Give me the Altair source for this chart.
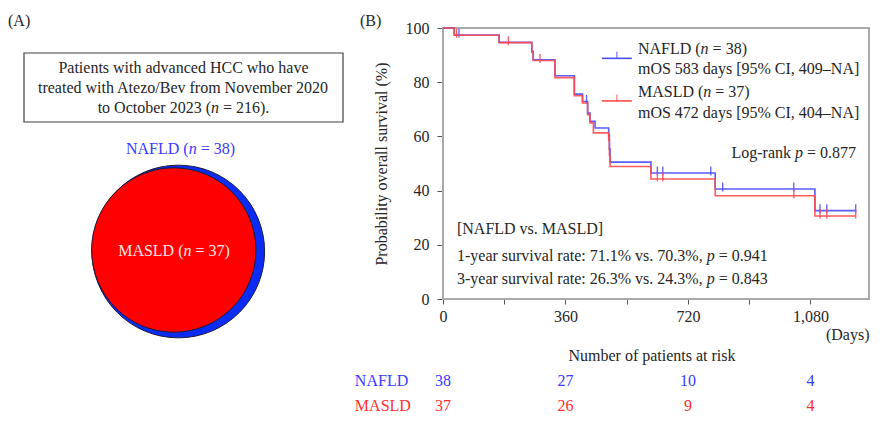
import altair as alt
import pandas as pd

# ------------------------------------------------------------------ data
# Kaplan-Meier step points (days, survival %)
nafld_time = [0, 33, 165, 261, 265, 329, 386, 410, 425, 432, 447, 487, 489, 491, 611, 800, 1093, 1213]
nafld_surv = [100, 97.4, 94.7, 91.4, 88.3, 82.4, 75.6, 72.9, 68.6, 65.6, 63.1, 60.5, 55.3, 50.5, 46.5, 40.6, 32.6, 32.6]
masld_time = [0, 33, 165, 261, 265, 329, 386, 410, 425, 432, 442, 487, 489, 491, 611, 800, 1093, 1213]
masld_surv = [100, 97.3, 94.6, 91.0, 88.0, 81.7, 75.0, 72.3, 68.0, 65.0, 61.3, 58.6, 53.0, 48.9, 44.3, 38.1, 30.6, 30.6]
# censoring marks (days)
nafld_censor = [47, 422, 630, 646, 787, 822, 1031, 1108, 1128, 1213]
masld_censor = [40, 192, 285, 630, 646, 1031, 1108, 1128, 1213]

# numbers at risk
risk_days = [0, 360, 720, 1080]
nafld_at_risk = [38, 27, 10, 4]
masld_at_risk = [37, 26, 9, 4]

groups = ["NAFLD", "MASLD"]
group_n = [38, 37]
total_n = 216
mos_text = ["mOS 583 days [95% CI, 409\u2013NA]", "mOS 472 days [95% CI, 404\u2013NA]"]
logrank_p = "0.877"
one_year = ["71.1%", "70.3%", "0.941"]
three_year = ["26.3%", "24.3%", "0.843"]
x_ticks = [0, 180, 360, 540, 720, 900, 1080]
y_ticks = [0, 20, 40, 60, 80, 100]

# ------------------------------------------------------------------ style
BLUE = "#3a3aff"
RED = "#ff2f2f"
LINE_BLUE = "#4a4aff"
LINE_RED = "#ff4a4a"
INK = "#262626"
FONT = "Liberation Serif"
FS = 16
NOVIEW = alt.ViewBackground(stroke="transparent", strokeWidth=0)

XMAX = 1252
W_KM, H_KM = 426, 271
DAYS_PER_PX = XMAX / W_KM
W_L, H_L = 335, 320

# Times / Liberation Serif advance widths (per 1000 em)
TW = {" ": 250, "(": 333, ")": 333, ",": 250, "-": 333, ".": 250, "/": 278, ":": 278,
      "=": 564, "[": 333, "]": 333, "%": 833, "\u2013": 500,
      "A": 722, "B": 667, "C": 667, "D": 722, "E": 611, "F": 556, "G": 722, "H": 722,
      "I": 333, "L": 611, "M": 889, "N": 722, "O": 722, "P": 556, "S": 556, "T": 611,
      "a": 444, "b": 500, "c": 444, "d": 500, "e": 444, "f": 333, "g": 500, "h": 500,
      "i": 278, "k": 500, "l": 278, "m": 778, "n": 500, "o": 500, "p": 500, "r": 333,
      "s": 389, "t": 278, "u": 500, "v": 500, "w": 722, "y": 500, "z": 444}


def tw(s):
    return sum(TW.get(c, 500) for c in s) * FS / 1000


def runs(segments, x, y, align="left", color=INK, units_per_px=1.0):
    total = sum(tw(s) for s, _ in segments)
    cur = {"left": 0.0, "center": -total / 2, "right": -total}[align]
    rows = []
    for s, it in segments:
        lead = len(s) - len(s.lstrip(" "))
        txt = s.strip()
        if txt:
            rows.append({"text": txt, "x": x + (cur + lead * TW[" "] * FS / 1000) * units_per_px,
                         "y": y, "italic": it, "color": color})
        cur += tw(s)
    return rows


def text_layers(rows, X, Y):
    df = pd.DataFrame(rows)
    base = alt.Chart(df).encode(x=X, y=Y, text="text:N", color=alt.Color("color:N", scale=None))
    norm = base.transform_filter("!datum.italic").mark_text(
        align="left", baseline="middle", fontSize=FS, font=FONT)
    ital = base.transform_filter("datum.italic").mark_text(
        align="left", baseline="middle", fontSize=FS, font=FONT, fontStyle="italic")
    return [norm, ital]


def surv_at(times, survs, t):
    v = survs[0]
    for ti, si in zip(times, survs):
        if ti <= t:
            v = si
    return v


# ------------------------------------------------------------------ panel A
lx = alt.Scale(domain=[0, W_L])
ly = alt.Scale(domain=[0, H_L], reverse=True)
LX = alt.X("x:Q", scale=lx, axis=None)
LY = alt.Y("y:Q", scale=ly, axis=None)

box = alt.Chart(pd.DataFrame([{"x": 16, "x2": 335, "y": 25, "y2": 94}])).mark_rect(
    fill="white", stroke="#404040", strokeWidth=1.2
).encode(x=LX, x2="x2:Q", y=LY, y2="y2:Q")

venn = pd.DataFrame({"grp": groups, "n": group_n, "x": [170.3, 165.8], "y": [223.5, 222.0],
                     "d": [172.6, 164.4]})
venn["size"] = venn["d"] ** 2
circ_blue = alt.Chart(venn[venn.grp == "NAFLD"]).mark_circle(
    opacity=1, fill="#0a2cf5", stroke="#1b1b3a", strokeWidth=1
).encode(x=LX, y=LY, size=alt.Size("size:Q", scale=None))
circ_red = alt.Chart(venn[venn.grp == "MASLD"]).mark_circle(
    opacity=1, fill="#ff0000", stroke="#1b1b3a", strokeWidth=1
).encode(x=LX, y=LY, size=alt.Size("size:Q", scale=None))

left_rows = []
left_rows += runs([("(A)", False)], 0, -7)
left_rows += runs([("Patients with advanced HCC who have", False)], 175.5, 39.7, "center")
left_rows += runs([("treated with Atezo/Bev from November 2020", False)], 175.5, 60.3, "center")
left_rows += runs([("to October 2023 (", False), ("n", True), (f" = {total_n}).", False)], 175.5, 80.3, "center")
left_rows += runs([("NAFLD (", False), ("n", True), (f" = {group_n[0]})", False)], 172.5, 121.3, "center", BLUE)
left_rows += runs([("MASLD (", False), ("n", True), (f" = {group_n[1]})", False)], 166, 223, "center", "#ffe4e4")

left = alt.layer(box, circ_blue, circ_red, *text_layers(left_rows, LX, LY)).properties(
    width=W_L, height=H_L, view=NOVIEW)

# ------------------------------------------------------------------ panel B (KM)
xs = alt.Scale(domain=[0, XMAX], nice=False, zero=True)
ys = alt.Scale(domain=[0, 100], nice=False)
xaxis = alt.Axis(values=x_ticks, labelExpr="datum.value % 360 == 0 ? format(datum.value, ',') : ''",
                 title="(Days)", titleAnchor="end", titlePadding=2, tickSize=5, labelPadding=4,
                 labelFlush=False, labelOverlap=False, grid=False)
yaxis = alt.Axis(values=y_ticks, title="Probability overall survival (%)", tickSize=6,
                 labelPadding=8, titlePadding=16, labelFlush=False, grid=False)
KX = alt.X("t:Q", scale=xs, axis=xaxis)
KY = alt.Y("s:Q", scale=ys, axis=yaxis)

curves = pd.concat([
    pd.DataFrame({"t": nafld_time, "s": nafld_surv, "grp": "NAFLD"}),
    pd.DataFrame({"t": masld_time, "s": masld_surv, "grp": "MASLD"}),
])
cens = pd.concat([
    pd.DataFrame({"t": nafld_censor, "s": [surv_at(nafld_time, nafld_surv, t) for t in nafld_censor], "grp": "NAFLD"}),
    pd.DataFrame({"t": masld_censor, "s": [surv_at(masld_time, masld_surv, t) for t in masld_censor], "grp": "MASLD"}),
])

frame = alt.Chart(pd.DataFrame([{"t": 0, "t2": XMAX, "s": 0, "s2": 100}])).mark_rect(
    fill="white", fillOpacity=0, stroke="#a9a9a9", strokeWidth=2
).encode(x=KX, x2="t2:Q", y=KY, y2="s2:Q")


def curve_layers(g, col):
    line = alt.Chart(curves[curves.grp == g]).mark_line(
        interpolate="step-after", strokeWidth=1.6, color=col, opacity=0.9
    ).encode(x=KX, y=KY)
    tick = alt.Chart(cens[cens.grp == g]).mark_tick(
        orient="vertical", size=9, thickness=1.3, color=col, opacity=0.9, yOffset=-2
    ).encode(x=KX, y=KY)
    return [line, tick]


# legend samples (in data units)
leg = pd.DataFrame({"t": [467, 467], "t2": [555, 555], "s": [88.8, 73.1], "grp": groups,
                    "mid": [511, 511]})
leg_lines = [
    alt.Chart(leg[leg.grp == "NAFLD"]).mark_rule(color=LINE_BLUE, strokeWidth=1.6).encode(x=KX, x2="t2:Q", y=KY),
    alt.Chart(leg[leg.grp == "MASLD"]).mark_rule(color=LINE_RED, strokeWidth=1.6).encode(x=KX, x2="t2:Q", y=KY),
    alt.Chart(leg[leg.grp == "NAFLD"]).mark_tick(orient="vertical", size=7, thickness=1.3, color=LINE_BLUE, yOffset=-3)
       .encode(x=alt.X("mid:Q", scale=xs, axis=xaxis), y=KY),
    alt.Chart(leg[leg.grp == "MASLD"]).mark_tick(orient="vertical", size=7, thickness=1.3, color=LINE_RED, yOffset=-3)
       .encode(x=alt.X("mid:Q", scale=xs, axis=xaxis), y=KY),
]

u = DAYS_PER_PX
km_rows = []
km_rows += runs([("(B)", False)], -244, 102.6, units_per_px=u)
km_rows += runs([("NAFLD (", False), ("n", True), (f" = {group_n[0]})", False)], 573, 92.25, units_per_px=u)
km_rows += runs([(mos_text[0], False)], 573, 84.9, units_per_px=u)
km_rows += runs([("MASLD (", False), ("n", True), (f" = {group_n[1]})", False)], 573, 76.4, units_per_px=u)
km_rows += runs([(mos_text[1], False)], 573, 68.6, units_per_px=u)
km_rows += runs([("Log-rank ", False), ("p", True), (f" = {logrank_p}", False)], 1214, 54.0, "right", units_per_px=u)
km_rows += runs([("[NAFLD vs. MASLD]", False)], 41, 25.7, units_per_px=u)
km_rows += runs([(f"1-year survival rate: {one_year[0]} vs. {one_year[1]}, ", False), ("p", True),
                 (f" = {one_year[2]}", False)], 41, 15.9, units_per_px=u)
km_rows += runs([(f"3-year survival rate: {three_year[0]} vs. {three_year[1]}, ", False), ("p", True),
                 (f" = {three_year[2]}", False)], 41, 7.5, units_per_px=u)
km_text = pd.DataFrame(km_rows).rename(columns={"x": "t", "y": "s"})
kbase = alt.Chart(km_text).encode(x=KX, y=KY, text="text:N", color=alt.Color("color:N", scale=None))
km_norm = kbase.transform_filter("!datum.italic").mark_text(align="left", baseline="middle", fontSize=FS, font=FONT)
km_ital = kbase.transform_filter("datum.italic").mark_text(align="left", baseline="middle", fontSize=FS, font=FONT,
                                                           fontStyle="italic")

km = alt.layer(
    frame, *curve_layers("NAFLD", LINE_BLUE), *curve_layers("MASLD", LINE_RED), *leg_lines, km_norm, km_ital
).properties(width=W_KM, height=H_KM, view=NOVIEW)

# ------------------------------------------------------------------ at-risk table
RX = alt.X("t:Q", scale=alt.Scale(domain=[0, XMAX], nice=False, zero=True), axis=None)
RY = alt.Y("grp:N", sort=groups, axis=None)
risk = pd.concat([
    pd.DataFrame({"t": risk_days, "n": nafld_at_risk, "grp": "NAFLD", "color": BLUE}),
    pd.DataFrame({"t": risk_days, "n": masld_at_risk, "grp": "MASLD", "color": RED}),
])
risk_nums = alt.Chart(risk).mark_text(align="center", baseline="middle", fontSize=FS, font=FONT).encode(
    x=RX, y=RY, text="n:Q", color=alt.Color("color:N", scale=None))
risk_lab = alt.Chart(pd.DataFrame({"t": [-259, -259], "grp": groups, "color": [BLUE, RED]})).mark_text(
    align="left", baseline="middle", fontSize=FS, font=FONT).encode(
    x=RX, y=RY, text="grp:N", color=alt.Color("color:N", scale=None))
risk_chart = alt.layer(risk_nums, risk_lab).properties(
    width=W_KM, height=50, view=NOVIEW,
    title=alt.TitleParams("Number of patients at risk", anchor="middle", fontSize=FS, font=FONT,
                          fontWeight="normal", color=INK, offset=-12, baseline="bottom", dx=-4))

right = alt.vconcat(km, risk_chart, spacing=69, bounds="flush")
chart = alt.hconcat(left, right, spacing=100, bounds="flush").properties(
    padding={"left": 0, "top": 4, "right": 0, "bottom": 0}
).configure_view(stroke="transparent", strokeWidth=0).configure(font=FONT, background="white").configure_axis(
    labelFont=FONT, titleFont=FONT, labelFontSize=FS, titleFontSize=FS, titleFontWeight="normal",
    labelColor=INK, titleColor=INK, domainColor="#555555", tickColor="#555555"
)

chart.save("out.html", embed_options={"renderer": "svg", "actions": False})
